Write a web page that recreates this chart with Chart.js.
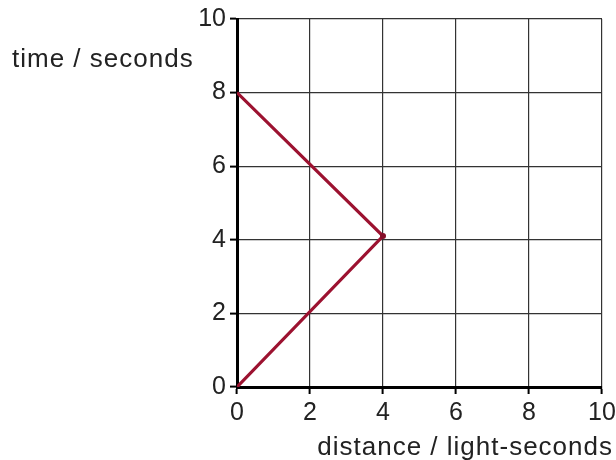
<!DOCTYPE html>
<html>
<head>
<meta charset="utf-8">
<script src="https://cdn.jsdelivr.net/npm/chart.js@4/dist/chart.umd.min.js"></script>
<style>
  html, body { margin: 0; padding: 0; background: #fff; }
  #wrap { width: 616px; height: 460px; }
</style>
</head>
<body>
<div id="wrap"><canvas id="lightChart" width="616" height="460"></canvas></div>
<script>
// Light pulse out to a mirror and back
const distance = [0, 4, 0];      // light-seconds
const time = [0, 4.1, 8];        // seconds
const axisMin = 0;
const axisMax = 10;
const tickStep = 2;
const xTitle = 'distance / light-seconds';
const yTitle = 'time / seconds';

const points = distance.map((d, i) => ({ x: d, y: time[i] }));

const fontFamily = '"Liberation Sans", Arial, Helvetica, sans-serif';
const textColor = '#222';

// Axis titles sit outside the scale boxes, so draw them by hand
const titlePlugin = {
    id: 'axisTitles',
    afterDraw(chart) {
        const ctx = chart.ctx;
        ctx.save();
        ctx.fillStyle = textColor;
        ctx.font = '26px ' + fontFamily;
        ctx.textBaseline = 'alphabetic';
        ctx.letterSpacing = '1px';
        ctx.textAlign = 'left';
        ctx.fillText(yTitle, 12, 67);
        ctx.textAlign = 'right';
        ctx.fillText(xTitle, 613, 455);
        ctx.restore();
    }
};

const axisCommon = {
    type: 'linear',
    min: axisMin,
    max: axisMax,
    border: { display: true, color: '#000', width: 3 },
    grid: {
        color: '#333',
        lineWidth: 1.2,
        drawTicks: true,
        tickLength: 7,
        tickColor: '#000',
        tickWidth: 2
    },
    ticks: {
        stepSize: tickStep,
        color: textColor,
        font: { family: fontFamily, size: 25 }
    }
};

new Chart(document.getElementById('lightChart'), {
    type: 'scatter',
    data: {
        datasets: [{
            data: points,
            showLine: true,
            borderColor: '#9c1230',
            borderWidth: 3.2,
            pointRadius: [0, 3, 0],
            pointBackgroundColor: '#850e28',
            pointBorderWidth: 0,
            tension: 0
        }]
    },
    options: {
        responsive: false,
        animation: false,
        layout: { padding: { left: 0, right: 14, top: 18, bottom: 0 } },
        plugins: {
            legend: { display: false },
            tooltip: { enabled: false }
        },
        scales: {
            x: {
                ...axisCommon,
                position: 'bottom',
                ticks: { ...axisCommon.ticks, padding: 4 },
                afterFit(scale) {
                    scale.height = 73;
                    // let the last label hang into the right margin
                    scale.paddingRight = 0;
                }
            },
            y: {
                ...axisCommon,
                position: 'left',
                ticks: { ...axisCommon.ticks, padding: 4 },
                afterFit(scale) { scale.width = 237; }
            }
        }
    },
    plugins: [titlePlugin]
});
</script>
</body>
</html>
